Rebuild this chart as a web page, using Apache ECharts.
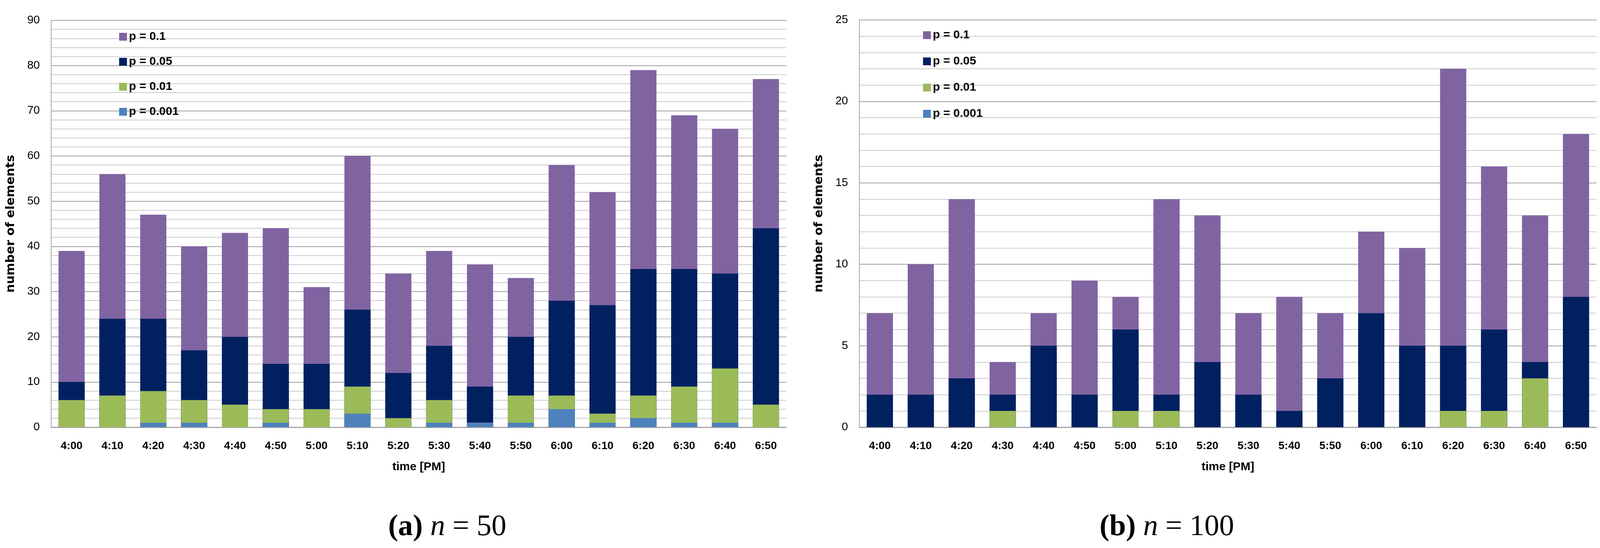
<!DOCTYPE html>
<html>
<head>
<meta charset="utf-8">
<script src="https://cdn.jsdelivr.net/npm/echarts@6/dist/echarts.min.js"></script>
<style>
html,body{margin:0;padding:0;background:#ffffff;}
#c{width:4111px;height:1402px;}
</style>
</head>
<body>
<div id="c"></div>
<script>
// ---- data ----
const categories = ['4:00','4:10','4:20','4:30','4:40','4:50','5:00','5:10','5:20','5:30','5:40','5:50','6:00','6:10','6:20','6:30','6:40','6:50'];
const seriesNames = ['p = 0.1','p = 0.05','p = 0.01','p = 0.001'];

// (a) n = 50
const a_p0100 = [39,56,47,40,43,44,31,60,34,39,36,33,58,52,79,69,66,77];
const a_p0050 = [10,24,24,17,20,14,14,26,12,18,9,20,28,27,35,35,34,44];
const a_p0010 = [6,7,8,6,5,4,4,9,2,6,1,7,7,3,7,9,13,5];
const a_p0001 = [0,0,1,1,0,1,0,3,0,1,1,1,4,1,2,1,1,0];

// (b) n = 100
const b_p0100 = [7,10,14,4,7,9,8,14,13,7,8,7,12,11,22,16,13,18];
const b_p0050 = [2,2,3,2,5,2,6,2,4,2,1,3,7,5,5,6,4,8];
const b_p0010 = [0,0,0,1,0,0,1,1,0,0,0,0,0,0,1,1,3,0];
const b_p0001 = [0,0,0,0,0,0,0,0,0,0,0,0,0,0,0,0,0,0];

const yTicksA = {min:0, max:90, interval:10};
const yTicksB = {min:0, max:25, interval:5};
const captionA = {label:'(a)', n:'50'};
const captionB = {label:'(b)', n:'100'};

// ---- style ----
const colors = ['#8064A2','#002060','#9BBB59','#4F81BD'];
const labelFont = 'Liberation Sans';
const majorGrid = '#a0a0a0';
const minorGrid = '#cccccc';

function xAxisFor(gridIndex){
  return {
    type:'category', gridIndex, data:categories,
    axisLine:{show:true, lineStyle:{color:'#a6a6a6', width:3}},
    axisTick:{show:false},
    axisLabel:{fontFamily:labelFont, fontWeight:'bold', fontSize:28, color:'#000', margin:34, interval:0},
    name:'time [PM]', nameLocation:'middle', nameGap:87,
    nameTextStyle:{fontFamily:labelFont, fontWeight:'bold', fontSize:30, color:'#000'}
  };
}
function yAxisFor(gridIndex, t){
  return {
    type:'value', gridIndex, min:t.min, max:t.max, interval:t.interval,
    axisLine:{show:true, lineStyle:{color:'#a6a6a6', width:2}},
    axisTick:{show:false},
    minorTick:{show:false, splitNumber:5},
    splitLine:{show:true, lineStyle:{color:majorGrid, width:2}},
    minorSplitLine:{show:true, lineStyle:{color:minorGrid, width:2}},
    axisLabel:{fontFamily:labelFont, fontSize:29, color:'#000', margin:29},
    name:'number of elements', nameLocation:'middle', nameRotate:90, nameGap:88,
    nameTextStyle:{fontFamily:'DejaVu Sans', fontWeight:'bold', fontSize:31, color:'#000'}
  };
}
function barsFor(idx, arrays){
  return arrays.map((d,i)=>({
    type:'bar', name:seriesNames[i], xAxisIndex:idx, yAxisIndex:idx,
    data:d, barGap:'-100%', barCategoryGap:'36%',
    itemStyle:{color:colors[i]}, z:2+i, animation:false
  }));
}
function legendFor(left, top, gap){
  return {
    data:seriesNames, orient:'vertical', left, top, itemGap:gap,
    itemWidth:20, itemHeight:20, icon:'rect',
    textStyle:{fontFamily:labelFont, fontWeight:'bold', fontSize:30, color:'#000', lineHeight:30},
    selectedMode:false
  };
}
function captionFor(c, x){
  const fs = 76;
  return {
    text:'{b|' + c.label + '}{s| }{i|n}{s| }{r|=}{s| }{r|' + c.n + '}',
    left:x, top:1306, textAlign:'center',
    textStyle:{
      fontWeight:'normal', fontSize:fs, fontFamily:'Liberation Serif', color:'#000',
      rich:{
        b:{fontFamily:'Liberation Serif', fontWeight:'bold', fontSize:fs, color:'#000'},
        s:{fontFamily:'Liberation Serif', fontWeight:'normal', fontSize:fs, color:'#000'},
        i:{fontFamily:'Liberation Serif', fontWeight:'normal', fontStyle:'italic', fontSize:fs, color:'#000'},
        r:{fontFamily:'Liberation Serif', fontWeight:'normal', fontSize:fs, color:'#000'}
      }
    }
  };
}

const chart = echarts.init(document.getElementById('c'));
chart.setOption({
  backgroundColor:'#ffffff',
  animation:false,
  title:[captionFor(captionA, 1140), captionFor(captionB, 2982)],
  legend:[legendFor(300, 74, 34), legendFor(2358, 70, 37)],
  grid:[
    {left:131, right:4111-2013, top:52, bottom:1402-1093, containLabel:false},
    {left:2200, right:4111-4087, top:51, bottom:1402-1093, containLabel:false}
  ],
  xAxis:[xAxisFor(0), xAxisFor(1)],
  yAxis:[yAxisFor(0, yTicksA), yAxisFor(1, yTicksB)],
  series:[].concat(
    barsFor(0, [a_p0100, a_p0050, a_p0010, a_p0001]),
    barsFor(1, [b_p0100, b_p0050, b_p0010, b_p0001])
  )
});
</script>
</body>
</html>
